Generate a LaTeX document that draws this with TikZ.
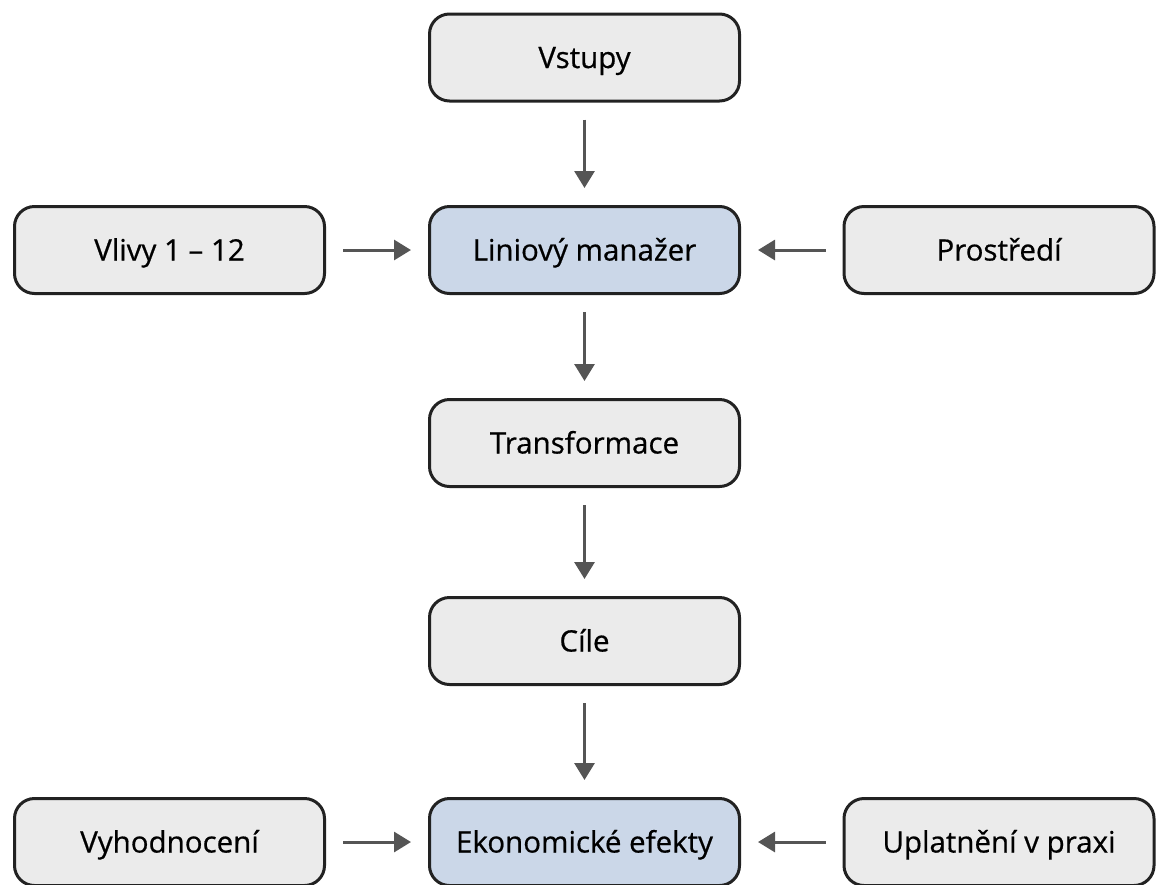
\documentclass[tikz,border=0pt]{standalone}
\usepackage{fontspec}
\setmainfont{Open Sans}
\newfontfamily\labelfont{Open Sans}[FakeBold=0.6]
\usetikzlibrary{arrows.meta}
\definecolor{boxgray}{HTML}{EBEBEB}
\definecolor{boxblue}{HTML}{CBD7E8}
\definecolor{edgedark}{HTML}{222222}
\definecolor{arrowgray}{HTML}{555555}
\begin{document}
\begin{tikzpicture}[x=1pt,y=1pt,
  box/.style={draw=edgedark, line width=3pt, rounded corners=20pt,
    fill=boxgray, minimum width=310pt, minimum height=87pt,
    inner sep=0pt, font=\labelfont\fontsize{29.5}{32}\selectfont, text=black,
    text height=26pt, text depth=5pt},
  keybox/.style={box, fill=boxblue},
  flow/.style={draw=arrowgray, line width=3pt,
    -{Triangle[width=20pt,length=17pt]},
    shorten <=17pt, shorten >=17pt}]
\useasboundingbox (0,0) rectangle (1158,-884);

\node[box]    (inputs)  at (584.5,-57.5) {Vstupy};
\node[keybox] (manager) at (584.5,-250)  {Liniový manažer};
\node[box]    (infl)    at (169.5,-250)  {Vlivy 1 – 12};
\node[box]    (env)     at (999,-250)    {Prostředí};
\node[box]    (transf)  at (584.5,-443)  {Transformace};
\node[box]    (goals)   at (584.5,-641)  {Cíle};
\node[keybox] (effects) at (584.5,-842)  {Ekonomické efekty};
\node[box]    (eval)    at (169.5,-842)  {Vyhodnocení};
\node[box]    (practice) at (999,-842)   {Uplatnění v praxi};

\draw[flow] (inputs) -- (manager);
\draw[flow] (infl) -- (manager);
\draw[flow] (env) -- (manager);
\draw[flow] (manager) -- (transf);
\draw[flow] (transf) -- (goals);
\draw[flow] (goals) -- (effects);
\draw[flow] (eval) -- (effects);
\draw[flow] (practice) -- (effects);
\end{tikzpicture}
\end{document}
